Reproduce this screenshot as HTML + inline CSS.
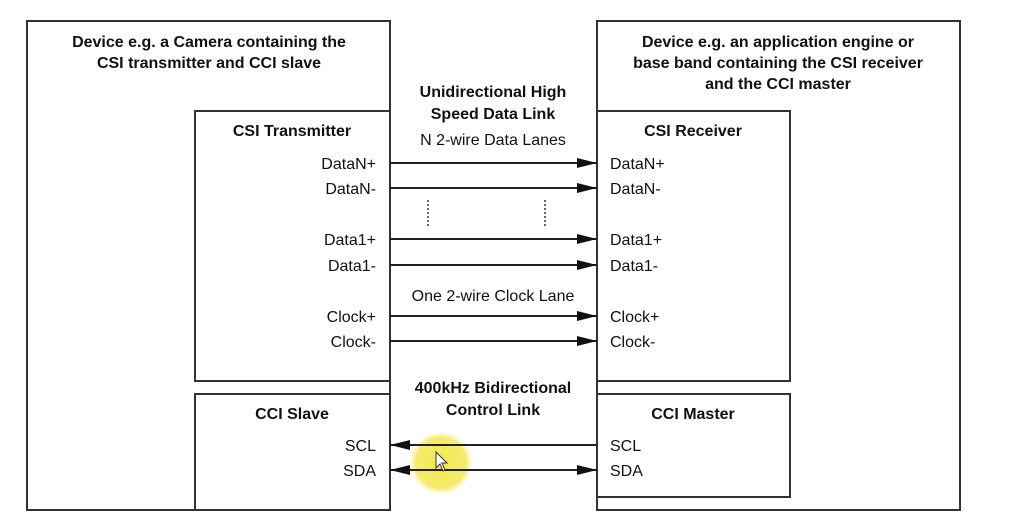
<!DOCTYPE html>
<html><head><style>
html,body{margin:0;padding:0;background:#fff;}
svg text{font-family:"Liberation Sans",Arial,sans-serif;fill:#111;}
</style></head><body>
<svg width="1032" height="523" viewBox="0 0 1032 523" xmlns="http://www.w3.org/2000/svg">
<defs>
<marker id="ah" markerWidth="20" markerHeight="10" refX="20" refY="5" orient="auto" markerUnits="userSpaceOnUse">
<path d="M0,0 L20,5 L0,10 Z" fill="#111"/></marker>
<marker id="as" markerWidth="20" markerHeight="10" refX="0" refY="5" orient="auto" markerUnits="userSpaceOnUse">
<path d="M20,0 L0,5 L20,10 Z" fill="#111"/></marker>
<radialGradient id="hl"><stop offset="0" stop-color="#f2e84a" stop-opacity="1"/><stop offset="0.8" stop-color="#f4ea60" stop-opacity="0.9"/><stop offset="1" stop-color="#fff8a0" stop-opacity="0"/></radialGradient>
</defs>
<g fill="none" stroke="#333" stroke-width="2">
<rect x="27" y="21" width="363" height="489"/>
<rect x="195" y="111" width="195" height="270"/>
<rect x="195" y="394" width="195" height="116"/>
<rect x="597" y="21" width="363" height="489"/>
<rect x="597" y="111" width="193" height="270"/>
<rect x="597" y="394" width="193" height="103"/>
</g>
<circle cx="441" cy="463" r="32" fill="url(#hl)"/>
<g stroke="#222" stroke-width="2">
<line x1="390" y1="163" x2="597" y2="163" marker-end="url(#ah)"/>
<line x1="390" y1="188" x2="597" y2="188" marker-end="url(#ah)"/>
<line x1="390" y1="239" x2="597" y2="239" marker-end="url(#ah)"/>
<line x1="390" y1="265" x2="597" y2="265" marker-end="url(#ah)"/>
<line x1="390" y1="316" x2="597" y2="316" marker-end="url(#ah)"/>
<line x1="390" y1="341" x2="597" y2="341" marker-end="url(#ah)"/>
<line x1="390" y1="445" x2="597" y2="445" marker-start="url(#as)"/>
<line x1="390" y1="470" x2="597" y2="470" marker-start="url(#as)" marker-end="url(#ah)"/>
</g>
<g stroke="#333" stroke-width="1.5" stroke-dasharray="2,2">
<line x1="428" y1="200" x2="428" y2="228"/>
<line x1="545" y1="200" x2="545" y2="228"/>
</g>
<g font-size="16" font-weight="bold" text-anchor="middle">
<text x="209" y="47">Device e.g. a Camera containing the</text>
<text x="209" y="68">CSI transmitter and CCI slave</text>
<text x="778" y="47">Device e.g. an application engine or</text>
<text x="778" y="68">base band containing the CSI receiver</text>
<text x="778" y="89">and the CCI master</text>
<text x="493" y="97">Unidirectional High</text>
<text x="493" y="119">Speed Data  Link</text>
<text x="292" y="136">CSI Transmitter</text>
<text x="693" y="136">CSI Receiver</text>
<text x="493" y="393">400kHz Bidirectional</text>
<text x="493" y="415">Control Link</text>
<text x="292" y="419">CCI Slave</text>
<text x="693" y="419">CCI Master</text>
</g>
<g font-size="16" text-anchor="middle">
<text x="493" y="145">N 2-wire Data Lanes</text>
<text x="493" y="301">One 2-wire Clock Lane</text>
</g>
<g font-size="16" text-anchor="end">
<text x="376" y="169">DataN+</text>
<text x="376" y="194">DataN-</text>
<text x="376" y="245">Data1+</text>
<text x="376" y="271">Data1-</text>
<text x="376" y="322">Clock+</text>
<text x="376" y="347">Clock-</text>
<text x="376" y="451">SCL</text>
<text x="376" y="476">SDA</text>
</g>
<g font-size="16">
<text x="610" y="169">DataN+</text>
<text x="610" y="194">DataN-</text>
<text x="610" y="245">Data1+</text>
<text x="610" y="271">Data1-</text>
<text x="610" y="322">Clock+</text>
<text x="610" y="347">Clock-</text>
<text x="610" y="451">SCL</text>
<text x="610" y="476">SDA</text>
</g>
<path d="M436,452 L436,468 L440,464 L443,471 L445,470 L442,463 L447,463 Z" fill="#fff" stroke="#333" stroke-width="1"/>
</svg>
</body></html>
